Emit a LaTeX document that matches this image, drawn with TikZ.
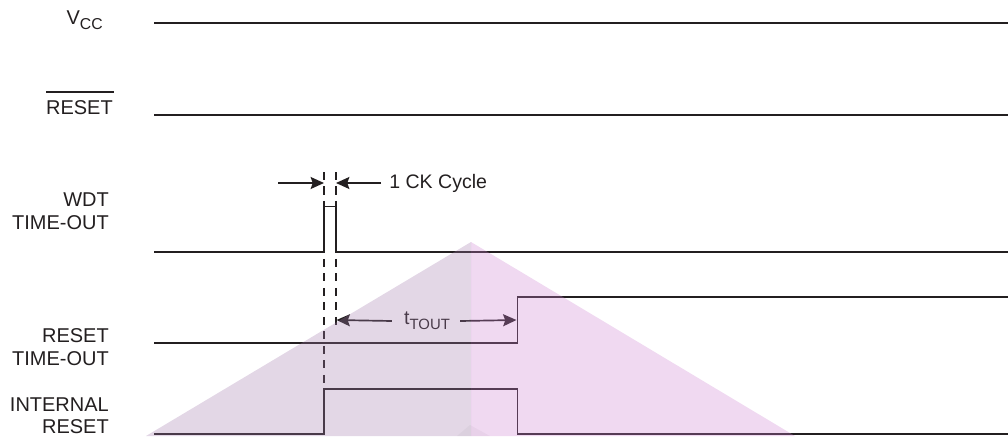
\documentclass[tikz,border=0pt]{standalone}
\usepackage{fontspec}
\setmainfont{Liberation Sans}
\usepackage{tikz}
\usetikzlibrary{arrows.meta}

\definecolor{wave}{RGB}{35,31,32}

\tikzset{
  signal/.style={draw=wave,line width=1.4pt},
  guide/.style={draw=wave,line width=1.4pt,dash pattern=on 5.7pt off 4.6pt},
  span/.style={draw=wave,line width=1.2pt,-{Stealth[length=9.5pt,width=8.5pt,inset=1.5pt]}},
  lbl/.style={align=right,anchor=east,inner sep=0pt,text=wave,font=\fontsize{14.2}{16}\selectfont},
  txt/.style={inner sep=0pt,text=wave,font=\fontsize{13.9}{16}\selectfont}
}

\begin{document}
\begin{tikzpicture}[x=.025cm,y=-.025cm]
\useasboundingbox (0,0) rectangle (1008,436);

% edges of the pulse
\coordinate (pa) at (324,183) ;
\coordinate (pb) at (336,183) ;
\coordinate (qa) at (336.5,320) ;
\coordinate (qb) at (516.5,320) ;
\coordinate (bara) at (46,92) ;
\coordinate (barb) at (114,92) ;

\node[lbl] (vcc) at (103,20) {V\raisebox{-.5ex}{\fontsize{11.2}{12}\selectfont CC}} ;
\node[lbl] (nreset) at (113,107.5) {RESET} ;
\draw[line width=.9pt,draw=wave] (bara) -- (barb) ;
\node[lbl] (wdt) at (109,211) {WDT\\TIME-OUT} ;
\node[lbl] (rto) at (109,347) {RESET\\TIME-OUT} ;
\node[lbl] (irst) at (109,415.5) {INTERNAL\\RESET} ;

\draw[signal] (154,23) -- (1008,23) ;
\draw[signal] (154,115) -- (1008,115) ;
\draw[signal] (154,252) -- (324,252) -- (324,206.5) -- (336,206.5) -- (336,252) -- (1008,252) ;
\draw[signal] (154,343) -- (517.5,343) -- (517.5,297) -- (1008,297) ;
\draw[signal] (154,434) -- (324,434) -- (324,389) -- (517.5,389) -- (517.5,434) -- (1008,434) ;

\draw[guide] (324,172) -- (324,388) ;
\draw[guide] (336,172) -- (336,331) ;

\draw[span] (278,183) -- (pa) ;
\draw[span] (381,183) -- (pb) ;
\node[txt,anchor=west] (ck) at (389,183) {1 CK Cycle} ;

\node[txt] (tout) at (427,321) {t\raisebox{-.45ex}{\fontsize{10.6}{12}\selectfont TOUT}} ;
\draw[span] (tout.west)+(-12,0) -- (qa) ;
\draw[span] (tout.east)+(10,0) -- (qb) ;

% shaded sheet over the waves
\fill[fill={rgb,1:red,.63;green,.48;blue,.67},opacity=.3] (146,436) -- (471,242) -- (471,436) -- cycle ;
\fill[fill={rgb,1:red,.8;green,.5;blue,.82},opacity=.3] (471,242) -- (795,436) -- (471,436) -- cycle ;
\fill[black,opacity=.03] (457,436) -- (470,425) -- (490,436) -- cycle ;

\end{tikzpicture}
\end{document}
